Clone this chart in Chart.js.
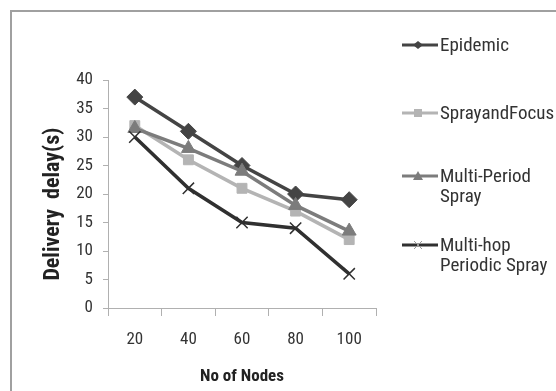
<!DOCTYPE html>
<html>
<head>
<meta charset="utf-8">
<script src="https://cdn.jsdelivr.net/npm/chart.js@4"></script>
<style>
    body { margin: 0; background: #fff; }
    #wrap { position: relative; width: 556px; height: 391px; overflow: hidden; }
    #frame { position: absolute; left: 10px; top: 10px; width: 560px; height: 400px; border: 2px solid #a0a0a0; box-sizing: border-box; }
    #legend { position: absolute; left: 400px; top: 0; font-family: "Liberation Sans Narrow", "Roboto Condensed", "DejaVu Sans Condensed", sans-serif; font-size: 19px; color: #333; }
    .item { position: absolute; left: 0; white-space: nowrap; line-height: 20px; }
    .item svg { position: absolute; left: 0; top: 2px; }
    .item span { position: absolute; left: 40px; top: 0; }
</style>
</head>
<body>
<div id="wrap">
    <div id="frame"></div>
    <canvas id="chart" width="556" height="391"></canvas>
    <div id="legend"></div>
</div>
<script>
// Data
const nodes = ['20', '40', '60', '80', '100'];
const seriesNames = [['Epidemic'], ['SprayandFocus'], ['Multi-Period', 'Spray'], ['Multi-hop', 'Periodic Spray']];
const epidemic = [37, 31, 25, 20, 19];
const sprayAndFocus = [32, 26, 21, 17, 12];
const multiPeriodSpray = [31.5, 28, 24, 18, 13.5];
const multiHopPeriodicSpray = [30, 21, 15, 14, 6];
const yTicks = [0, 5, 10, 15, 20, 25, 30, 35, 40];

const FONT = '"Liberation Sans Narrow", "Roboto Condensed", "DejaVu Sans Condensed", sans-serif';

const styles = [
    { color: '#444444', point: 'rectRot', radius: 8, legendTop: 35 },
    { color: '#b4b4b4', point: 'rect', radius: 7, legendTop: 103 },
    { color: '#7c7c7c', point: 'triangle', radius: 8, legendTop: 166 },
    { color: '#303030', point: 'crossRot', radius: 8, legendTop: 235 }
];

const values = [epidemic, sprayAndFocus, multiPeriodSpray, multiHopPeriodicSpray];

const datasets = values.map((data, i) => ({
    label: seriesNames[i].join(' '),
    data: data,
    borderColor: styles[i].color,
    backgroundColor: styles[i].color,
    borderWidth: 3.5,
    pointStyle: styles[i].point,
    pointRadius: styles[i].radius,
    pointBorderWidth: i === 3 ? 1.5 : 1,
    pointBackgroundColor: styles[i].color,
    pointBorderColor: styles[i].color,
    tension: 0
}));

// Draw in reverse so Epidemic sits on top
const chart = new Chart(document.getElementById('chart'), {
    type: 'line',
    data: { labels: nodes, datasets: datasets.slice().reverse() },
    options: {
        responsive: false,
        animation: false,
        layout: { padding: { left: 40, top: 80, right: 180, bottom: 4 } },
        plugins: { legend: { display: false }, tooltip: { enabled: false } },
        scales: {
            x: {
                offset: true,
                grid: { offset: true, drawOnChartArea: false, tickLength: 8, color: '#b0b0b0' },
                border: { color: '#b0b0b0', width: 1 },
                ticks: { padding: 14, color: '#333', font: { family: FONT, size: 17 } },
                title: { display: true, text: 'No of Nodes', color: '#222', font: { family: FONT, size: 17, weight: 'bold' }, padding: { top: 10, bottom: 0 } },
                afterFit: s => { s.height = 79; }
            },
            y: {
                min: 0,
                max: 40,
                afterBuildTicks: s => { s.ticks = yTicks.map(v => ({ value: v })); },
                grid: { drawOnChartArea: false, tickLength: 5, color: '#b0b0b0' },
                border: { color: '#b0b0b0', width: 1 },
                ticks: { padding: 10, color: '#333', font: { family: FONT, size: 17 } },
                // trailing spaces nudge the visible title a little lower, as in the original
                title: { display: true, text: 'Delivery  delay(s)    ', color: '#222', font: { family: FONT, size: 22, weight: 'bold' }, padding: { top: 0, bottom: 4 } },
                afterFit: s => { s.width = 68; }
            }
        }
    }
});

// Legend
const legend = document.getElementById('legend');
seriesNames.forEach((lines, i) => {
    const st = styles[i];
    const item = document.createElement('div');
    item.className = 'item';
    item.style.top = st.legendTop + 'px';
    let marker = '';
    if (st.point === 'rectRot') marker = `<polygon points="18,4 23,8 18,12 13,8" fill="${st.color}"/>`;
    if (st.point === 'rect') marker = `<rect x="14" y="4" width="8" height="8" fill="${st.color}"/>`;
    if (st.point === 'triangle') marker = `<polygon points="18,3 23,12 13,12" fill="${st.color}"/>`;
    if (st.point === 'crossRot') marker = `<path d="M14,4 L22,12 M22,4 L14,12" stroke="#999" stroke-width="1"/>`;
    item.innerHTML = `<svg width="40" height="16"><line x1="2" y1="8" x2="38" y2="8" stroke="${st.color}" stroke-width="3"/>${marker}</svg>` +
        `<span>${lines.join('<br>')}</span>`;
    legend.appendChild(item);
});
</script>
</body>
</html>
